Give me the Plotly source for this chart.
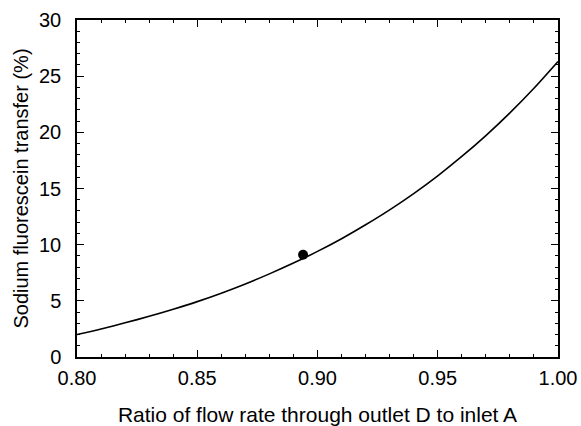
import plotly.graph_objects as go

ratio = [0.80, 0.81, 0.82, 0.83, 0.84, 0.85, 0.86, 0.87, 0.88, 0.89, 0.90,
         0.91, 0.92, 0.93, 0.94, 0.95, 0.96, 0.97, 0.98, 0.99, 1.00]
transfer = [2.0, 2.5, 3.04, 3.62, 4.25, 4.93, 5.68, 6.5, 7.4, 8.36, 9.4,
            10.53, 11.77, 13.1, 14.55, 16.13, 17.85, 19.71, 21.73, 23.92, 26.3]
meas_x = [0.894]
meas_y = [9.1]

FONT = "Liberation Sans, Arial, sans-serif"

fig = go.Figure()
fig.add_trace(go.Scatter(x=ratio, y=transfer, mode="lines",
                         line=dict(color="black", width=1.6, shape="spline", smoothing=0.8),
                         showlegend=False, cliponaxis=False))
fig.add_trace(go.Scatter(x=meas_x, y=meas_y, mode="markers", marker=dict(color="black", size=10),
                         showlegend=False))

axis_common = dict(showline=True, linecolor="black", linewidth=1.5, mirror="ticks", ticks="inside",
                   tickcolor="black", tickwidth=1.2, ticklen=7, showgrid=False, zeroline=False,
                   automargin=False,
                   tickfont=dict(family=FONT, size=20, color="black"))

fig.update_xaxes(range=[0.80, 1.00], tickvals=[0.80, 0.85, 0.90, 0.95, 1.00],
                 ticktext=["0.80", "0.85", "0.90", "0.95", "1.00"],
                 ticklabelstandoff=2,
                 minor=dict(dtick=0.01, ticks="inside", ticklen=3, tickcolor="black", tickwidth=1.2),
                 title=dict(text="Ratio of flow rate through outlet D to inlet A",
                            font=dict(family=FONT, size=21, color="black"), standoff=28),
                 **axis_common)
fig.update_yaxes(range=[0, 30], tickvals=[0, 5, 10, 15, 20, 25, 30],
                 ticklabelstandoff=10,
                 minor=dict(dtick=1, ticks="inside", ticklen=3, tickcolor="black", tickwidth=1.2),
                 title=dict(text="Sodium fluorescein transfer (%)",
                            font=dict(family=FONT, size=20, color="black"), standoff=5),
                 **axis_common)

fig.update_layout(width=581, height=426, margin=dict(l=77, r=23, t=20, b=69),
                  plot_bgcolor="white", paper_bgcolor="white")

fig.write_html("out.html", config={"displayModeBar": False},
               post_script="document.body.style.margin='0';document.body.style.overflow='hidden';")
